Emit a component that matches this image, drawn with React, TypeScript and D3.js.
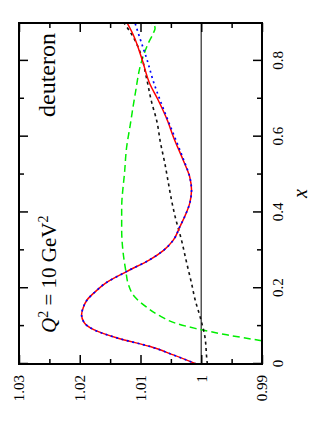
import React, { useEffect, useRef } from "react";
import * as d3 from "d3";

// tick values / labels
const xTicks = [0, 0.2, 0.4, 0.6, 0.8];
const xTickLabels = ["0", "0.2", "0.4", "0.6", "0.8"];
const xMinorTicks = [0.1, 0.3, 0.5, 0.7];
const ratioTicks = [0.99, 1, 1.01, 1.02, 1.03];
const ratioTickLabels = ["0.99", "1", "1.01", "1.02", "1.03"];
const ratioMinorTicks = [0.995, 1.005, 1.015, 1.025];

// curves: [x, ratio]
const redPoints: [number, number][] = [
  [0, 1.0008], [0.024, 1.0046], [0.046, 1.0084], [0.068, 1.0137], [0.09, 1.0176],
  [0.11, 1.0193], [0.13, 1.0197], [0.15, 1.0194], [0.169, 1.0188], [0.19, 1.0175],
  [0.213, 1.0158], [0.244, 1.0123], [0.275, 1.0085], [0.3, 1.0062], [0.327, 1.0046],
  [0.363, 1.0035], [0.39, 1.0027], [0.424, 1.0019], [0.459, 1.0016], [0.494, 1.0019],
  [0.539, 1.003], [0.6, 1.0046], [0.64, 1.0055], [0.7, 1.0072], [0.737, 1.0084],
  [0.807, 1.0098], [0.869, 1.0112], [0.9, 1.0122],
];

const bluePoints: [number, number][] = [
  [0, 1.0008], [0.024, 1.0046], [0.046, 1.0084], [0.068, 1.0137], [0.09, 1.0176],
  [0.11, 1.0193], [0.13, 1.0197], [0.15, 1.0194], [0.169, 1.0188], [0.19, 1.0175],
  [0.213, 1.0158], [0.244, 1.0123], [0.275, 1.0085], [0.3, 1.0062], [0.327, 1.0046],
  [0.363, 1.0035], [0.39, 1.0027], [0.424, 1.0019], [0.459, 1.0016], [0.494, 1.0019],
  [0.539, 1.0029], [0.6, 1.0044], [0.64, 1.0054], [0.719, 1.0073], [0.737, 1.0077],
  [0.807, 1.009], [0.86, 1.0101], [0.9, 1.0109],
];

const blackPoints: [number, number][] = [
  [0, 0.999], [0.016, 0.9991], [0.072, 0.9994], [0.125, 1.0002], [0.169, 1.001],
  [0.213, 1.0016], [0.267, 1.0024], [0.33, 1.0033], [0.389, 1.0043], [0.433, 1.0049],
  [0.477, 1.0054], [0.53, 1.006], [0.583, 1.0067], [0.64, 1.0073], [0.693, 1.0082],
  [0.754, 1.009], [0.825, 1.0101], [0.86, 1.0111], [0.9, 1.0127],
];

const greenPoints: [number, number][] = [
  [0.052, 0.9865], [0.062, 0.9903], [0.077, 0.9958], [0.094, 1.001], [0.107, 1.0041],
  [0.125, 1.0066], [0.15, 1.009], [0.178, 1.011], [0.21, 1.012], [0.244, 1.0124],
  [0.3, 1.0129], [0.354, 1.0131], [0.41, 1.0131], [0.51, 1.0126], [0.57, 1.0123],
  [0.63, 1.0117], [0.71, 1.0109], [0.8, 1.0098], [0.847, 1.0087], [0.873, 1.0079],
  [0.886, 1.0076], [0.897, 1.0079], [0.9, 1.0084],
];

const App = () => {
  const svgRef = useRef<SVGSVGElement>(null);

  useEffect(() => {
    if (!svgRef.current) return;

    const width = 311;
    const height = 443;
    // the figure is printed turned a quarter turn: plot is drawn upright then rotated
    const origin = { left: 19, bottom: 364 };
    const plotW = 341; // along x
    const plotH = 243; // along ratio
    const font = '"Liberation Serif", "Times New Roman", Times, "DejaVu Serif", serif';

    const svg = d3.select(svgRef.current).attr("width", width).attr("height", height);
    svg.selectAll("*").remove();

    const xScale = d3.scaleLinear().domain([0, 0.9]).range([0, plotW]);
    const yScale = d3.scaleLinear().domain([0.99, 1.03]).range([plotH, 0]);

    const g = svg
      .append("g")
      .attr("transform", `translate(${origin.left},${origin.bottom}) rotate(-90)`)
      .attr("font-family", font);

    g.append("clipPath")
      .attr("id", "plot-clip")
      .append("rect")
      .attr("width", plotW)
      .attr("height", plotH);

    // reference line at 1
    g.append("line")
      .attr("x1", 0)
      .attr("x2", plotW)
      .attr("y1", yScale(1))
      .attr("y2", yScale(1))
      .attr("stroke", "#555")
      .attr("stroke-width", 1.5);

    const line = d3
      .line<[number, number]>()
      .x((d) => xScale(d[0]))
      .y((d) => yScale(d[1]))
      .curve(d3.curveMonotoneX);

    const curves = g.append("g").attr("clip-path", "url(#plot-clip)");

    curves.append("path")
      .datum(greenPoints)
      .attr("fill", "none")
      .attr("stroke", "#00ee00")
      .attr("stroke-width", 1.5)
      .attr("stroke-dasharray", "7,4")
      .attr("d", line);

    curves.append("path")
      .datum(blackPoints)
      .attr("fill", "none")
      .attr("stroke", "#111")
      .attr("stroke-width", 1.6)
      .attr("stroke-dasharray", "3,3.5")
      .attr("d", line);

    curves.append("path")
      .datum(redPoints)
      .attr("fill", "none")
      .attr("stroke", "#ff0000")
      .attr("stroke-width", 1.5)
      .attr("d", line);

    curves.append("path")
      .datum(bluePoints)
      .attr("fill", "none")
      .attr("stroke", "#0000ff")
      .attr("stroke-width", 1.7)
      .attr("stroke-dasharray", "2,3.5")
      .attr("d", line);

    // axes with inward ticks
    const styleAxis = (sel: d3.Selection<SVGGElement, unknown, null, undefined>) => {
      sel.attr("font-family", font).attr("font-size", 15);
      sel.select(".domain").remove();
      sel.selectAll("line").attr("stroke", "#000").attr("stroke-width", 1.5);
      sel.selectAll("text").attr("fill", "#000");
    };

    g.append("g")
      .attr("transform", `translate(0,${plotH})`)
      .call(
        d3.axisBottom(xScale)
          .tickValues(xTicks)
          .tickFormat((d, i) => xTickLabels[i])
          .tickSize(-9)
          .tickPadding(10)
      )
      .call(styleAxis);
    g.append("g")
      .attr("transform", `translate(0,${plotH})`)
      .call(d3.axisBottom(xScale).tickValues(xMinorTicks).tickFormat(() => "").tickSize(-5))
      .call(styleAxis);
    g.append("g")
      .call(d3.axisTop(xScale).tickValues(xTicks).tickFormat(() => "").tickSize(-9))
      .call(styleAxis);
    g.append("g")
      .call(d3.axisTop(xScale).tickValues(xMinorTicks).tickFormat(() => "").tickSize(-5))
      .call(styleAxis);

    g.append("g")
      .call(
        d3.axisLeft(yScale)
          .tickValues(ratioTicks)
          .tickFormat((d, i) => ratioTickLabels[i])
          .tickSize(-9)
          .tickPadding(11)
      )
      .call(styleAxis);
    g.append("g")
      .call(d3.axisLeft(yScale).tickValues(ratioMinorTicks).tickFormat(() => "").tickSize(-5))
      .call(styleAxis);
    g.append("g")
      .attr("transform", `translate(${plotW},0)`)
      .call(d3.axisRight(yScale).tickValues(ratioTicks).tickFormat(() => "").tickSize(-9))
      .call(styleAxis);
    g.append("g")
      .attr("transform", `translate(${plotW},0)`)
      .call(d3.axisRight(yScale).tickValues(ratioMinorTicks).tickFormat(() => "").tickSize(-5))
      .call(styleAxis);

    // frame
    g.append("rect")
      .attr("width", plotW)
      .attr("height", plotH)
      .attr("fill", "none")
      .attr("stroke", "#000")
      .attr("stroke-width", 2);

    // axis label
    g.append("text")
      .attr("x", plotW / 2)
      .attr("y", plotH + 45)
      .attr("text-anchor", "middle")
      .attr("font-size", 20)
      .attr("font-style", "italic")
      .text("x");

    // annotations
    g.append("text")
      .attr("x", 331)
      .attr("y", 36)
      .attr("text-anchor", "end")
      .attr("font-size", 24)
      .text("deuteron");

    const q = g.append("text")
      .attr("x", 31)
      .attr("y", 37)
      .attr("font-size", 21);
    q.append("tspan").attr("font-style", "italic").text("Q");
    q.append("tspan").attr("dy", -8).attr("font-size", 14).text("2");
    q.append("tspan").attr("dy", 8).text(" = 10 GeV");
    q.append("tspan").attr("dy", -8).attr("font-size", 14).text("2");
  }, []);

  return (
    <svg
      ref={svgRef}
      style={{ position: "absolute", left: 0, top: 0, background: "#fff" }}
    ></svg>
  );
};

export default App;
